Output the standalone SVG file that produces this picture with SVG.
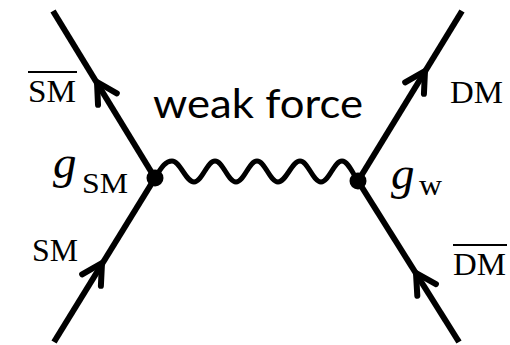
<svg xmlns="http://www.w3.org/2000/svg" width="510" height="345" viewBox="0 0 510 345">
<style>
.line{stroke:#000;stroke-width:6;fill:none;stroke-linecap:butt}
.wave{stroke:#000;stroke-width:5;fill:none;stroke-linejoin:round}
.arrow{stroke:#000;stroke-width:6;fill:none;stroke-linecap:round;stroke-linejoin:miter}
.bar{stroke:#000;stroke-width:1.8}
.lbl{font-family:"Liberation Serif","Times New Roman",serif;font-size:31px;fill:#000}
.math{font-family:"Liberation Serif","Times New Roman",serif;font-style:italic;font-size:47px;fill:#000}
.sub{font-family:"Liberation Serif","Times New Roman",serif;font-size:29px;fill:#000}
.sans{font-family:Lato,"Open Sans",sans-serif;font-size:40px;fill:#000}
</style>
<defs>
<path id="chev" d="M-20,-11 L0,0 L-20,11"/>
</defs>
<rect width="510" height="345" fill="#fff"/>
<g id="connectors">
<line class="line" x1="53" y1="11" x2="155" y2="178"/>
<line class="line" x1="54" y1="342" x2="155" y2="178"/>
<line class="line" x1="462" y1="11" x2="358" y2="181"/>
<line class="line" x1="459" y1="342" x2="358" y2="181"/>
<path class="wave" d="M155,178 C162,166 166,161 172,161 C180,161 186,182 194,182 C202,182 207,161 215,161 C223,161 228,182 236,182 C244,182 249,161 257,161 C265,161 270,182 278,182 C286,182 292,161 300,161 C308,161 313,182 321,182 C329,182 334,161 342,161 C348,161 353,174 358,181"/>
<use href="#chev" class="arrow" transform="translate(97,82) rotate(-121.4)"/>
<use href="#chev" class="arrow" transform="translate(102,263) rotate(-58.4)"/>
<use href="#chev" class="arrow" transform="translate(425,71) rotate(-58.5)"/>
<use href="#chev" class="arrow" transform="translate(416,273) rotate(-122.1)"/>
</g>
<g id="vertex-left">
<circle cx="155" cy="178" r="8.5" fill="#000"/>
<text class="math" x="53" y="178">g</text>
<text class="sub" x="82" y="193" textLength="46" lengthAdjust="spacingAndGlyphs">SM</text>
</g>
<g id="vertex-right">
<circle cx="358" cy="181" r="8.5" fill="#000"/>
<text class="math" x="391" y="189">g</text>
<text class="sub" x="419" y="195" font-size="30" textLength="23" lengthAdjust="spacingAndGlyphs">w</text>
</g>
<g id="label-weak">
<text class="sans" x="153" y="118" textLength="210" lengthAdjust="spacingAndGlyphs">weak force</text>
</g>
<g id="label-smbar">
<line class="bar" x1="28" y1="72" x2="77" y2="72"/>
<text class="lbl" x="28" y="102" textLength="48" lengthAdjust="spacingAndGlyphs">SM</text>
</g>
<g id="label-dm">
<text class="lbl" x="450" y="103" textLength="53" lengthAdjust="spacingAndGlyphs">DM</text>
</g>
<g id="label-sm">
<text class="lbl" x="32" y="261" textLength="46" lengthAdjust="spacingAndGlyphs">SM</text>
</g>
<g id="label-dmbar">
<line class="bar" x1="453" y1="245" x2="507" y2="245"/>
<text class="lbl" x="453" y="275" textLength="53" lengthAdjust="spacingAndGlyphs">DM</text>
</g>
</svg>
